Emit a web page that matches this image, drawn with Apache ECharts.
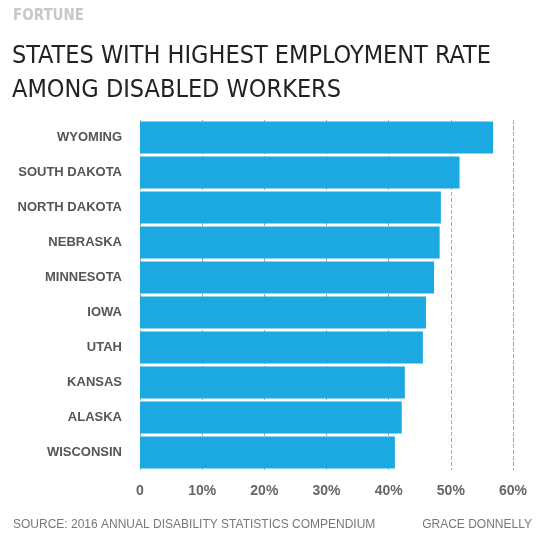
<!DOCTYPE html>
<html><head><meta charset="utf-8">
<script src="https://cdn.jsdelivr.net/npm/echarts@6/dist/echarts.min.js"></script>
<style>body{margin:0;background:#fff}#c{width:545px;height:542px}</style>
</head><body><div id="c"></div>
<script>
const states = ['WYOMING', 'SOUTH DAKOTA', 'NORTH DAKOTA', 'NEBRASKA', 'MINNESOTA', 'IOWA', 'UTAH', 'KANSAS', 'ALASKA', 'WISCONSIN'];
const rates = [56.8, 51.4, 48.4, 48.2, 47.3, 46.0, 45.5, 42.6, 42.1, 41.0];
const tickLabels = ['0', '10%', '20%', '30%', '40%', '50%', '60%'];

const chart = echarts.init(document.getElementById('c'));
chart.setOption({
  animation: false,
  title: [
    { text: 'FORTUNE', left: 8, top: 4, textStyle: { fontFamily: 'DejaVu Sans Condensed', fontWeight: 'bold', fontSize: 15, color: '#c8c8c8' } },
    { text: 'STATES WITH HIGHEST EMPLOYMENT RATE\nAMONG DISABLED WORKERS', left: 7, top: 34,
      textStyle: { fontFamily: 'DejaVu Sans Condensed', fontWeight: 'normal', fontSize: 25, lineHeight: 34, color: '#222' } },
    { text: 'SOURCE: 2016 ANNUAL DISABILITY STATISTICS COMPENDIUM', left: 8, top: 514,
      textStyle: { fontFamily: 'Liberation Sans', fontWeight: 'normal', fontSize: 12, color: '#777' } },
    { text: 'GRACE DONNELLY', right: 8, top: 514,
      textStyle: { fontFamily: 'Liberation Sans', fontWeight: 'normal', fontSize: 12, color: '#777' } }
  ],
  grid: { left: 140, right: 32, top: 120, bottom: 72 },
  xAxis: {
    type: 'value', min: 0, max: 60, interval: 10,
    axisLine: { show: false }, axisTick: { show: false },
    splitLine: { show: true, lineStyle: { color: '#aaa', type: 'dashed', width: 1 } },
    axisLabel: { margin: 14, color: '#666', fontWeight: 'bold', fontSize: 14, fontFamily: 'Liberation Sans',
      formatter: (v) => tickLabels[v / 10] }
  },
  yAxis: {
    type: 'category', data: states, inverse: true,
    axisLine: { show: false }, axisTick: { show: false },
    axisLabel: { margin: 18, color: '#555', fontWeight: 'bold', fontSize: 13, fontFamily: 'Liberation Sans' }
  },
  series: [{
    type: 'bar', data: rates, barWidth: 32,
    itemStyle: { color: '#1ca8e0' }
  }]
});
</script></body></html>
